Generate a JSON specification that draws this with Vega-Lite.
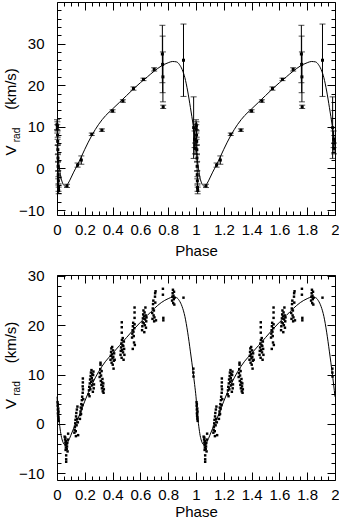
{
  "$schema": "https://vega.github.io/schema/vega-lite/v6.json",
  "padding": {"left": 2, "top": 1, "right": 0, "bottom": 0},
  "spacing": 9,
  "config": {
    "view": {"stroke": "black", "strokeWidth": 1},
    "font": "Liberation Sans",
    "axis": {
      "labelFont": "Liberation Sans", "labelFontSize": 15, "labelColor": "black",
      "titleFont": "Liberation Sans", "titleFontSize": 15, "titleColor": "black", "titleFontWeight": "normal",
      "tickColor": "black", "tickWidth": 1, "domain": false, "grid": false,
      "labelOverlap": false, "labelFlush": false, "labelBound": false
    }
  },
  "datasets": {
    "curve": [
      {"p":0,"v":5.5},{"p":0.01,"v":2.0},{"p":0.02,"v":-0.5},{"p":0.03,"v":-2.4},{"p":0.04,"v":-3.5},{"p":0.05,"v":-4.1},{"p":0.06,"v":-4.3},{"p":0.07,"v":-4.1},{"p":0.08,"v":-3.6},{"p":0.09,"v":-3.0},{"p":0.10,"v":-2.3},{"p":0.12,"v":-0.9},{"p":0.15,"v":1.0},{"p":0.20,"v":4.6},{"p":0.25,"v":7.9},{"p":0.30,"v":10.6},{"p":0.35,"v":12.7},{"p":0.40,"v":14.3},{"p":0.45,"v":15.9},{"p":0.50,"v":17.5},{"p":0.55,"v":19.1},{"p":0.60,"v":20.6},{"p":0.65,"v":22.0},{"p":0.70,"v":23.4},{"p":0.75,"v":24.6},{"p":0.80,"v":25.4},{"p":0.83,"v":25.7},{"p":0.86,"v":25.6},{"p":0.88,"v":25.0},{"p":0.90,"v":23.8},{"p":0.92,"v":21.8},{"p":0.94,"v":18.6},{"p":0.96,"v":14.6},{"p":0.98,"v":10.3},{"p":0.99,"v":8.0},
      {"p":1,"v":5.5},{"p":1.01,"v":2.0},{"p":1.02,"v":-0.5},{"p":1.03,"v":-2.4},{"p":1.04,"v":-3.5},{"p":1.05,"v":-4.1},{"p":1.06,"v":-4.3},{"p":1.07,"v":-4.1},{"p":1.08,"v":-3.6},{"p":1.09,"v":-3.0},{"p":1.10,"v":-2.3},{"p":1.12,"v":-0.9},{"p":1.15,"v":1.0},{"p":1.20,"v":4.6},{"p":1.25,"v":7.9},{"p":1.30,"v":10.6},{"p":1.35,"v":12.7},{"p":1.40,"v":14.3},{"p":1.45,"v":15.9},{"p":1.50,"v":17.5},{"p":1.55,"v":19.1},{"p":1.60,"v":20.6},{"p":1.65,"v":22.0},{"p":1.70,"v":23.4},{"p":1.75,"v":24.6},{"p":1.80,"v":25.4},{"p":1.83,"v":25.7},{"p":1.86,"v":25.6},{"p":1.88,"v":25.0},{"p":1.90,"v":23.8},{"p":1.92,"v":21.8},{"p":1.94,"v":18.6},{"p":1.96,"v":14.6},{"p":1.98,"v":10.3},{"p":1.99,"v":8.0},{"p":2,"v":5.5}
    ],
    "err": [
      {"p":0.000,"v":10.5,"lo":9.3,"hi":11.7},{"p":0.002,"v":9.5,"lo":8.5,"hi":10.5},{"p":0.003,"v":10.2,"lo":9.2,"hi":11.2},{"p":0.004,"v":8.0,"lo":7.0,"hi":9.0},{"p":0.005,"v":6.5,"lo":5.5,"hi":7.5},{"p":0.006,"v":4.5,"lo":3.3,"hi":5.7},{"p":0.007,"v":2.5,"lo":1.5,"hi":3.5},{"p":0.008,"v":0.5,"lo":-0.7,"hi":1.7},{"p":0.009,"v":-1.5,"lo":-2.5,"hi":-0.5},{"p":0.010,"v":-3.0,"lo":-4.0,"hi":-2.0},{"p":0.011,"v":-4.6,"lo":-5.5,"hi":-3.7},{"p":0.012,"v":-5.3,"lo":-6.1,"hi":-4.5},
      {"p":0.072,"v":-4.2,"lo":-4.6,"hi":-3.8},{"p":0.148,"v":0.8,"lo":0.3,"hi":1.3},{"p":0.175,"v":2.0,"lo":1.0,"hi":3.0},{"p":0.250,"v":8.2,"lo":7.9,"hi":8.5},{"p":0.323,"v":9.2,"lo":8.9,"hi":9.5},{"p":0.400,"v":13.8,"lo":13.5,"hi":14.1},{"p":0.474,"v":16.2,"lo":15.9,"hi":16.5},{"p":0.550,"v":19.2,"lo":18.8,"hi":19.6},{"p":0.622,"v":21.4,"lo":21.1,"hi":21.7},{"p":0.699,"v":23.8,"lo":23.4,"hi":24.2},
      {"p":0.758,"v":27.5,"lo":20.6,"hi":34.4},{"p":0.760,"v":25.0,"lo":18.2,"hi":31.8},{"p":0.762,"v":22.0,"lo":16.0,"hi":28.0},{"p":0.764,"v":14.8,"lo":14.4,"hi":15.2},{"p":0.910,"v":26.0,"lo":17.3,"hi":34.7},{"p":0.983,"v":9.8,"lo":2.4,"hi":17.2},{"p":0.990,"v":7.0,"lo":5.0,"hi":9.0},{"p":0.993,"v":4.8,"lo":3.5,"hi":6.1},
      {"p":1.000,"v":10.5,"lo":9.3,"hi":11.7},{"p":1.002,"v":9.5,"lo":8.5,"hi":10.5},{"p":1.003,"v":10.2,"lo":9.2,"hi":11.2},{"p":1.004,"v":8.0,"lo":7.0,"hi":9.0},{"p":1.005,"v":6.5,"lo":5.5,"hi":7.5},{"p":1.006,"v":4.5,"lo":3.3,"hi":5.7},{"p":1.007,"v":2.5,"lo":1.5,"hi":3.5},{"p":1.008,"v":0.5,"lo":-0.7,"hi":1.7},{"p":1.009,"v":-1.5,"lo":-2.5,"hi":-0.5},{"p":1.010,"v":-3.0,"lo":-4.0,"hi":-2.0},{"p":1.011,"v":-4.6,"lo":-5.5,"hi":-3.7},{"p":1.012,"v":-5.3,"lo":-6.1,"hi":-4.5},
      {"p":1.072,"v":-4.2,"lo":-4.6,"hi":-3.8},{"p":1.148,"v":0.8,"lo":0.3,"hi":1.3},{"p":1.175,"v":2.0,"lo":1.0,"hi":3.0},{"p":1.250,"v":8.2,"lo":7.9,"hi":8.5},{"p":1.323,"v":9.2,"lo":8.9,"hi":9.5},{"p":1.400,"v":13.8,"lo":13.5,"hi":14.1},{"p":1.474,"v":16.2,"lo":15.9,"hi":16.5},{"p":1.550,"v":19.2,"lo":18.8,"hi":19.6},{"p":1.622,"v":21.4,"lo":21.1,"hi":21.7},{"p":1.699,"v":23.8,"lo":23.4,"hi":24.2},
      {"p":1.758,"v":27.5,"lo":20.6,"hi":34.4},{"p":1.760,"v":25.0,"lo":18.2,"hi":31.8},{"p":1.762,"v":22.0,"lo":16.0,"hi":28.0},{"p":1.764,"v":14.8,"lo":14.4,"hi":15.2},{"p":1.910,"v":26.0,"lo":17.3,"hi":34.7},{"p":1.983,"v":9.8,"lo":2.4,"hi":17.2},{"p":1.990,"v":7.0,"lo":5.0,"hi":9.0},{"p":1.993,"v":4.8,"lo":3.5,"hi":6.1}
    ],
    "pts": [
      {"p":0.004,"v":4.4},{"p":0.005,"v":3.6},{"p":0.006,"v":2.9},{"p":0.007,"v":2.2},{"p":0.008,"v":1.6},{"p":0.009,"v":3.1},{"p":0.010,"v":1.0},{"p":0.011,"v":2.5},{"p":0.012,"v":0.6},{"p":0.006,"v":4.0},{"p":0.008,"v":2.0},{"p":0.010,"v":1.3},
      {"p":0.055,"v":-2.6},{"p":0.058,"v":-3.2},{"p":0.060,"v":-3.8},{"p":0.062,"v":-4.3},{"p":0.064,"v":-4.8},{"p":0.066,"v":-3.5},{"p":0.068,"v":-4.1},{"p":0.070,"v":-5.1},{"p":0.072,"v":-4.6},{"p":0.074,"v":-3.9},{"p":0.076,"v":-5.6},{"p":0.066,"v":-6.4},{"p":0.066,"v":-7.2},{"p":0.066,"v":-7.7},{"p":0.078,"v":-3.2},{"p":0.080,"v":-2.0},{"p":0.062,"v":-5.3},{"p":0.060,"v":-2.8},
      {"p":0.125,"v":-1.8},{"p":0.127,"v":-1.2},{"p":0.129,"v":-0.6},{"p":0.131,"v":0.1},{"p":0.133,"v":0.8},{"p":0.135,"v":-1.5},{"p":0.137,"v":1.5},{"p":0.139,"v":2.2},{"p":0.141,"v":-0.3},{"p":0.143,"v":2.9},{"p":0.145,"v":1.0},{"p":0.147,"v":3.5},{"p":0.150,"v":0.3},{"p":0.152,"v":-2.3},{"p":0.136,"v":-2.5},
      {"p":0.165,"v":1.0},{"p":0.167,"v":1.8},{"p":0.169,"v":2.5},{"p":0.171,"v":3.3},{"p":0.173,"v":2.0},{"p":0.175,"v":4.0},{"p":0.177,"v":3.0},{"p":0.179,"v":4.8},{"p":0.181,"v":5.5},{"p":0.183,"v":3.8},{"p":0.185,"v":6.3},{"p":0.187,"v":7.0},{"p":0.185,"v":7.6},{"p":0.186,"v":8.4},{"p":0.186,"v":9.2},{"p":0.189,"v":5.0},
      {"p":0.228,"v":6.0},{"p":0.230,"v":6.8},{"p":0.232,"v":7.5},{"p":0.234,"v":5.6},{"p":0.236,"v":8.2},{"p":0.238,"v":9.0},{"p":0.240,"v":7.0},{"p":0.242,"v":9.7},{"p":0.244,"v":10.4},{"p":0.246,"v":8.5},{"p":0.248,"v":10.9},{"p":0.250,"v":9.3},{"p":0.252,"v":7.8},{"p":0.254,"v":10.1},{"p":0.256,"v":8.8},{"p":0.258,"v":6.5},{"p":0.260,"v":9.9},{"p":0.262,"v":10.6},{"p":0.264,"v":7.2},{"p":0.266,"v":8.0},
      {"p":0.307,"v":9.5},{"p":0.309,"v":10.3},{"p":0.311,"v":11.1},{"p":0.313,"v":12.0},{"p":0.315,"v":8.7},{"p":0.317,"v":9.8},{"p":0.319,"v":7.9},{"p":0.321,"v":10.7},{"p":0.323,"v":7.2},{"p":0.325,"v":8.4},{"p":0.327,"v":9.1},{"p":0.329,"v":6.6},{"p":0.331,"v":7.6},{"p":0.333,"v":8.2},{"p":0.335,"v":6.3},{"p":0.337,"v":7.0},{"p":0.313,"v":12.4},
      {"p":0.385,"v":13.0},{"p":0.387,"v":13.8},{"p":0.389,"v":14.6},{"p":0.391,"v":15.3},{"p":0.393,"v":12.4},{"p":0.395,"v":14.1},{"p":0.397,"v":15.6},{"p":0.399,"v":13.3},{"p":0.401,"v":12.0},{"p":0.403,"v":14.9},{"p":0.405,"v":13.6},{"p":0.407,"v":11.2},{"p":0.409,"v":12.8},{"p":0.411,"v":14.3},{"p":0.415,"v":13.0},
      {"p":0.457,"v":14.0},{"p":0.459,"v":14.8},{"p":0.461,"v":15.5},{"p":0.463,"v":16.3},{"p":0.465,"v":13.4},{"p":0.467,"v":17.0},{"p":0.469,"v":15.0},{"p":0.471,"v":16.0},{"p":0.473,"v":17.4},{"p":0.475,"v":14.5},{"p":0.477,"v":15.8},{"p":0.479,"v":13.0},{"p":0.481,"v":16.7},{"p":0.483,"v":15.2},{"p":0.466,"v":18.5},{"p":0.466,"v":19.6},{"p":0.466,"v":20.6},{"p":0.485,"v":14.0},
      {"p":0.540,"v":17.5},{"p":0.542,"v":18.3},{"p":0.544,"v":19.0},{"p":0.546,"v":19.8},{"p":0.548,"v":20.5},{"p":0.550,"v":18.7},{"p":0.552,"v":17.8},{"p":0.554,"v":16.5},{"p":0.556,"v":19.4},{"p":0.558,"v":20.2},{"p":0.560,"v":16.0},{"p":0.545,"v":15.2},{"p":0.558,"v":21.5},{"p":0.558,"v":22.6},{"p":0.558,"v":23.6},
      {"p":0.612,"v":19.0},{"p":0.614,"v":19.8},{"p":0.616,"v":20.6},{"p":0.618,"v":21.4},{"p":0.620,"v":22.2},{"p":0.622,"v":23.0},{"p":0.624,"v":20.4},{"p":0.626,"v":21.8},{"p":0.628,"v":18.6},{"p":0.630,"v":22.6},{"p":0.632,"v":20.0},{"p":0.634,"v":21.2},{"p":0.636,"v":23.6},{"p":0.638,"v":22.0},{"p":0.640,"v":19.5},{"p":0.642,"v":20.8},{"p":0.644,"v":21.6},
      {"p":0.685,"v":22.5},{"p":0.687,"v":21.3},{"p":0.689,"v":23.4},{"p":0.691,"v":24.3},{"p":0.693,"v":25.0},{"p":0.695,"v":22.0},{"p":0.697,"v":23.0},{"p":0.699,"v":20.8},{"p":0.701,"v":21.6},{"p":0.705,"v":25.8},{"p":0.706,"v":26.5},{"p":0.707,"v":24.6},{"p":0.709,"v":26.9},{"p":0.712,"v":21.0},
      {"p":0.762,"v":27.4},{"p":0.762,"v":26.2},{"p":0.765,"v":21.5},{"p":0.765,"v":21.0},
      {"p":0.828,"v":25.0},{"p":0.830,"v":25.8},{"p":0.832,"v":26.5},{"p":0.834,"v":27.2},{"p":0.836,"v":24.5},{"p":0.838,"v":26.0},{"p":0.840,"v":25.3},{"p":0.842,"v":26.8},{"p":0.844,"v":24.2},{"p":0.846,"v":25.6},
      {"p":0.910,"v":25.6},{"p":0.981,"v":11.2},{"p":0.981,"v":10.4},{"p":0.982,"v":9.6},
      {"p":1.004,"v":4.4},{"p":1.005,"v":3.6},{"p":1.006,"v":2.9},{"p":1.007,"v":2.2},{"p":1.008,"v":1.6},{"p":1.009,"v":3.1},{"p":1.010,"v":1.0},{"p":1.011,"v":2.5},{"p":1.012,"v":0.6},{"p":1.006,"v":4.0},{"p":1.008,"v":2.0},{"p":1.010,"v":1.3},
      {"p":1.055,"v":-2.6},{"p":1.058,"v":-3.2},{"p":1.060,"v":-3.8},{"p":1.062,"v":-4.3},{"p":1.064,"v":-4.8},{"p":1.066,"v":-3.5},{"p":1.068,"v":-4.1},{"p":1.070,"v":-5.1},{"p":1.072,"v":-4.6},{"p":1.074,"v":-3.9},{"p":1.076,"v":-5.6},{"p":1.066,"v":-6.4},{"p":1.066,"v":-7.2},{"p":1.066,"v":-7.7},{"p":1.078,"v":-3.2},{"p":1.080,"v":-2.0},{"p":1.062,"v":-5.3},{"p":1.060,"v":-2.8},
      {"p":1.125,"v":-1.8},{"p":1.127,"v":-1.2},{"p":1.129,"v":-0.6},{"p":1.131,"v":0.1},{"p":1.133,"v":0.8},{"p":1.135,"v":-1.5},{"p":1.137,"v":1.5},{"p":1.139,"v":2.2},{"p":1.141,"v":-0.3},{"p":1.143,"v":2.9},{"p":1.145,"v":1.0},{"p":1.147,"v":3.5},{"p":1.150,"v":0.3},{"p":1.152,"v":-2.3},{"p":1.136,"v":-2.5},
      {"p":1.165,"v":1.0},{"p":1.167,"v":1.8},{"p":1.169,"v":2.5},{"p":1.171,"v":3.3},{"p":1.173,"v":2.0},{"p":1.175,"v":4.0},{"p":1.177,"v":3.0},{"p":1.179,"v":4.8},{"p":1.181,"v":5.5},{"p":1.183,"v":3.8},{"p":1.185,"v":6.3},{"p":1.187,"v":7.0},{"p":1.185,"v":7.6},{"p":1.186,"v":8.4},{"p":1.186,"v":9.2},{"p":1.189,"v":5.0},
      {"p":1.228,"v":6.0},{"p":1.230,"v":6.8},{"p":1.232,"v":7.5},{"p":1.234,"v":5.6},{"p":1.236,"v":8.2},{"p":1.238,"v":9.0},{"p":1.240,"v":7.0},{"p":1.242,"v":9.7},{"p":1.244,"v":10.4},{"p":1.246,"v":8.5},{"p":1.248,"v":10.9},{"p":1.250,"v":9.3},{"p":1.252,"v":7.8},{"p":1.254,"v":10.1},{"p":1.256,"v":8.8},{"p":1.258,"v":6.5},{"p":1.260,"v":9.9},{"p":1.262,"v":10.6},{"p":1.264,"v":7.2},{"p":1.266,"v":8.0},
      {"p":1.307,"v":9.5},{"p":1.309,"v":10.3},{"p":1.311,"v":11.1},{"p":1.313,"v":12.0},{"p":1.315,"v":8.7},{"p":1.317,"v":9.8},{"p":1.319,"v":7.9},{"p":1.321,"v":10.7},{"p":1.323,"v":7.2},{"p":1.325,"v":8.4},{"p":1.327,"v":9.1},{"p":1.329,"v":6.6},{"p":1.331,"v":7.6},{"p":1.333,"v":8.2},{"p":1.335,"v":6.3},{"p":1.337,"v":7.0},{"p":1.313,"v":12.4},
      {"p":1.385,"v":13.0},{"p":1.387,"v":13.8},{"p":1.389,"v":14.6},{"p":1.391,"v":15.3},{"p":1.393,"v":12.4},{"p":1.395,"v":14.1},{"p":1.397,"v":15.6},{"p":1.399,"v":13.3},{"p":1.401,"v":12.0},{"p":1.403,"v":14.9},{"p":1.405,"v":13.6},{"p":1.407,"v":11.2},{"p":1.409,"v":12.8},{"p":1.411,"v":14.3},{"p":1.415,"v":13.0},
      {"p":1.457,"v":14.0},{"p":1.459,"v":14.8},{"p":1.461,"v":15.5},{"p":1.463,"v":16.3},{"p":1.465,"v":13.4},{"p":1.467,"v":17.0},{"p":1.469,"v":15.0},{"p":1.471,"v":16.0},{"p":1.473,"v":17.4},{"p":1.475,"v":14.5},{"p":1.477,"v":15.8},{"p":1.479,"v":13.0},{"p":1.481,"v":16.7},{"p":1.483,"v":15.2},{"p":1.466,"v":18.5},{"p":1.466,"v":19.6},{"p":1.466,"v":20.6},{"p":1.485,"v":14.0},
      {"p":1.540,"v":17.5},{"p":1.542,"v":18.3},{"p":1.544,"v":19.0},{"p":1.546,"v":19.8},{"p":1.548,"v":20.5},{"p":1.550,"v":18.7},{"p":1.552,"v":17.8},{"p":1.554,"v":16.5},{"p":1.556,"v":19.4},{"p":1.558,"v":20.2},{"p":1.560,"v":16.0},{"p":1.545,"v":15.2},{"p":1.558,"v":21.5},{"p":1.558,"v":22.6},{"p":1.558,"v":23.6},
      {"p":1.612,"v":19.0},{"p":1.614,"v":19.8},{"p":1.616,"v":20.6},{"p":1.618,"v":21.4},{"p":1.620,"v":22.2},{"p":1.622,"v":23.0},{"p":1.624,"v":20.4},{"p":1.626,"v":21.8},{"p":1.628,"v":18.6},{"p":1.630,"v":22.6},{"p":1.632,"v":20.0},{"p":1.634,"v":21.2},{"p":1.636,"v":23.6},{"p":1.638,"v":22.0},{"p":1.640,"v":19.5},{"p":1.642,"v":20.8},{"p":1.644,"v":21.6},
      {"p":1.685,"v":22.5},{"p":1.687,"v":21.3},{"p":1.689,"v":23.4},{"p":1.691,"v":24.3},{"p":1.693,"v":25.0},{"p":1.695,"v":22.0},{"p":1.697,"v":23.0},{"p":1.699,"v":20.8},{"p":1.701,"v":21.6},{"p":1.705,"v":25.8},{"p":1.706,"v":26.5},{"p":1.707,"v":24.6},{"p":1.709,"v":26.9},{"p":1.712,"v":21.0},
      {"p":1.762,"v":27.4},{"p":1.762,"v":26.2},{"p":1.765,"v":21.5},{"p":1.765,"v":21.0},
      {"p":1.828,"v":25.0},{"p":1.830,"v":25.8},{"p":1.832,"v":26.5},{"p":1.834,"v":27.2},{"p":1.836,"v":24.5},{"p":1.838,"v":26.0},{"p":1.840,"v":25.3},{"p":1.842,"v":26.8},{"p":1.844,"v":24.2},{"p":1.846,"v":25.6},
      {"p":1.910,"v":25.6},{"p":1.981,"v":11.2},{"p":1.981,"v":10.4},{"p":1.982,"v":9.6}
    ]
  },
  "vconcat": [
    {
      "width": 278,
      "height": 213,
      "resolve": {"axis": {"x": "independent", "y": "independent"}},
      "layer": [
        {
          "data": {"name": "err"},
          "mark": {"type": "rule", "color": "black", "strokeWidth": 1},
          "encoding": {
            "x": {"field": "p", "type": "quantitative", "scale": {"domain": [0, 2], "nice": false, "zero": false},
              "axis": {"orient": "bottom", "values": [0,0.05,0.1,0.15,0.2,0.25,0.3,0.35,0.4,0.45,0.5,0.55,0.6,0.65,0.7,0.75,0.8,0.85,0.9,0.95,1,1.05,1.1,1.15,1.2,1.25,1.3,1.35,1.4,1.45,1.5,1.55,1.6,1.65,1.7,1.75,1.8,1.85,1.9,1.95,2],
                "tickSize": {"condition": {"test": "abs(datum.value*5-round(datum.value*5))<1e-6", "value": -8}, "value": -4},
                "labelExpr": "abs(datum.value*5-round(datum.value*5))<1e-6 ? format(datum.value,'~g') : ''",
                "labelPadding": 15, "title": "Phase", "titleY": 40, "titleBaseline": "alphabetic"}},
            "y": {"field": "lo", "type": "quantitative", "scale": {"domain": [-11.2, 40], "nice": false, "zero": false},
              "axis": {"orient": "left", "values": [-10,-8,-6,-4,-2,0,2,4,6,8,10,12,14,16,18,20,22,24,26,28,30,32,34,36,38],
                "tickSize": {"condition": {"test": "datum.value % 10 == 0", "value": -8}, "value": -4},
                "labelExpr": "datum.value % 10 == 0 ? datum.label : ''",
                "labelPadding": 21, "title": "(km/s)", "titleX": -42, "titleY": 86.5, "titleAlign": "center", "titleBaseline": "alphabetic", "titleAngle": 270}},
            "y2": {"field": "hi"}
          }
        },
        {
          "data": {"name": "err"},
          "mark": {"type": "tick", "orient": "horizontal", "size": 6, "thickness": 1, "color": "black"},
          "encoding": {
            "x": {"field": "p", "type": "quantitative", "scale": {"domain": [0, 2], "nice": false, "zero": false},
              "axis": {"orient": "top", "values": [0,0.05,0.1,0.15,0.2,0.25,0.3,0.35,0.4,0.45,0.5,0.55,0.6,0.65,0.7,0.75,0.8,0.85,0.9,0.95,1,1.05,1.1,1.15,1.2,1.25,1.3,1.35,1.4,1.45,1.5,1.55,1.6,1.65,1.7,1.75,1.8,1.85,1.9,1.95,2],
                "tickSize": {"condition": {"test": "abs(datum.value*5-round(datum.value*5))<1e-6", "value": -8}, "value": -4},
                "labels": false, "title": null}},
            "y": {"field": "lo", "type": "quantitative", "scale": {"domain": [-11.2, 40], "nice": false, "zero": false},
              "axis": {"orient": "right", "values": [-10,-8,-6,-4,-2,0,2,4,6,8,10,12,14,16,18,20,22,24,26,28,30,32,34,36,38],
                "tickSize": {"condition": {"test": "datum.value % 10 == 0", "value": -8}, "value": -4},
                "labels": false, "title": null}}
          }
        },
        {
          "data": {"name": "err"},
          "mark": {"type": "tick", "orient": "horizontal", "size": 6, "thickness": 1, "color": "black"},
          "encoding": {
            "x": {"field": "p", "type": "quantitative", "scale": {"domain": [0, 2], "nice": false, "zero": false}, "axis": null},
            "y": {"field": "hi", "type": "quantitative", "scale": {"domain": [-11.2, 40], "nice": false, "zero": false},
              "axis": {"orient": "left", "ticks": false, "labels": false, "title": "V", "titleX": -42, "titleY": 148, "titleAlign": "center", "titleBaseline": "alphabetic", "titleAngle": 270}}
          }
        },
        {
          "data": {"name": "err"},
          "mark": {"type": "square", "size": 9, "color": "black", "filled": true, "opacity": 1},
          "encoding": {
            "x": {"field": "p", "type": "quantitative", "scale": {"domain": [0, 2], "nice": false, "zero": false}, "axis": null},
            "y": {"field": "v", "type": "quantitative", "scale": {"domain": [-11.2, 40], "nice": false, "zero": false},
              "axis": {"orient": "left", "ticks": false, "labels": false, "title": "rad", "titleFontSize": 10, "titleX": -38, "titleY": 132.5, "titleAlign": "center", "titleBaseline": "alphabetic", "titleAngle": 270}}
          }
        },
        {
          "data": {"name": "curve"},
          "mark": {"type": "line", "color": "black", "strokeWidth": 1, "interpolate": "monotone"},
          "encoding": {
            "x": {"field": "p", "type": "quantitative", "scale": {"domain": [0, 2], "nice": false, "zero": false}, "axis": null},
            "y": {"field": "v", "type": "quantitative", "scale": {"domain": [-11.2, 40], "nice": false, "zero": false}, "axis": null}
          }
        }
      ]
    },
    {
      "width": 278,
      "height": 205,
      "resolve": {"axis": {"x": "independent", "y": "independent"}},
      "layer": [
        {
          "data": {"name": "pts"},
          "mark": {"type": "square", "size": 6, "color": "black", "filled": true, "opacity": 1},
          "encoding": {
            "x": {"field": "p", "type": "quantitative", "scale": {"domain": [0, 2], "nice": false, "zero": false},
              "axis": {"orient": "bottom", "values": [0,0.05,0.1,0.15,0.2,0.25,0.3,0.35,0.4,0.45,0.5,0.55,0.6,0.65,0.7,0.75,0.8,0.85,0.9,0.95,1,1.05,1.1,1.15,1.2,1.25,1.3,1.35,1.4,1.45,1.5,1.55,1.6,1.65,1.7,1.75,1.8,1.85,1.9,1.95,2],
                "tickSize": {"condition": {"test": "abs(datum.value*5-round(datum.value*5))<1e-6", "value": -8}, "value": -4},
                "labelExpr": "abs(datum.value*5-round(datum.value*5))<1e-6 ? format(datum.value,'~g') : ''",
                "labelPadding": 15, "title": "Phase", "titleY": 36, "titleBaseline": "alphabetic"}},
            "y": {"field": "v", "type": "quantitative", "scale": {"domain": [-11.4, 30.2], "nice": false, "zero": false},
              "axis": {"orient": "left", "values": [-10,-8,-6,-4,-2,0,2,4,6,8,10,12,14,16,18,20,22,24,26,28,30],
                "tickSize": {"condition": {"test": "datum.value % 10 == 0", "value": -8}, "value": -4},
                "labelExpr": "datum.value % 10 == 0 ? datum.label : ''",
                "labelPadding": 21, "title": "(km/s)", "titleX": -42, "titleY": 67, "titleAlign": "center", "titleBaseline": "alphabetic", "titleAngle": 270}}
          }
        },
        {
          "data": {"name": "curve"},
          "mark": {"type": "line", "color": "black", "strokeWidth": 1, "interpolate": "monotone"},
          "encoding": {
            "x": {"field": "p", "type": "quantitative", "scale": {"domain": [0, 2], "nice": false, "zero": false},
              "axis": {"orient": "top", "values": [0,0.05,0.1,0.15,0.2,0.25,0.3,0.35,0.4,0.45,0.5,0.55,0.6,0.65,0.7,0.75,0.8,0.85,0.9,0.95,1,1.05,1.1,1.15,1.2,1.25,1.3,1.35,1.4,1.45,1.5,1.55,1.6,1.65,1.7,1.75,1.8,1.85,1.9,1.95,2],
                "tickSize": {"condition": {"test": "abs(datum.value*5-round(datum.value*5))<1e-6", "value": -8}, "value": -4},
                "labels": false, "title": null}},
            "y": {"field": "v", "type": "quantitative", "scale": {"domain": [-11.4, 30.2], "nice": false, "zero": false},
              "axis": {"orient": "right", "values": [-10,-8,-6,-4,-2,0,2,4,6,8,10,12,14,16,18,20,22,24,26,28,30],
                "tickSize": {"condition": {"test": "datum.value % 10 == 0", "value": -8}, "value": -4},
                "labels": false, "title": null}}
          }
        },
        {
          "data": {"name": "curve"},
          "mark": {"type": "line", "color": "black", "strokeWidth": 1, "opacity": 0},
          "encoding": {
            "x": {"field": "p", "type": "quantitative", "scale": {"domain": [0, 2], "nice": false, "zero": false}, "axis": null},
            "y": {"field": "v", "type": "quantitative", "scale": {"domain": [-11.4, 30.2], "nice": false, "zero": false},
              "axis": {"orient": "left", "ticks": false, "labels": false, "title": "V", "titleX": -42, "titleY": 128.5, "titleAlign": "center", "titleBaseline": "alphabetic", "titleAngle": 270}}
          }
        },
        {
          "data": {"name": "curve"},
          "mark": {"type": "line", "color": "black", "strokeWidth": 1, "opacity": 0},
          "encoding": {
            "x": {"field": "p", "type": "quantitative", "scale": {"domain": [0, 2], "nice": false, "zero": false}, "axis": null},
            "y": {"field": "v", "type": "quantitative", "scale": {"domain": [-11.4, 30.2], "nice": false, "zero": false},
              "axis": {"orient": "left", "ticks": false, "labels": false, "title": "rad", "titleFontSize": 10, "titleX": -38, "titleY": 113, "titleAlign": "center", "titleBaseline": "alphabetic", "titleAngle": 270}}
          }
        }
      ]
    }
  ]
}
